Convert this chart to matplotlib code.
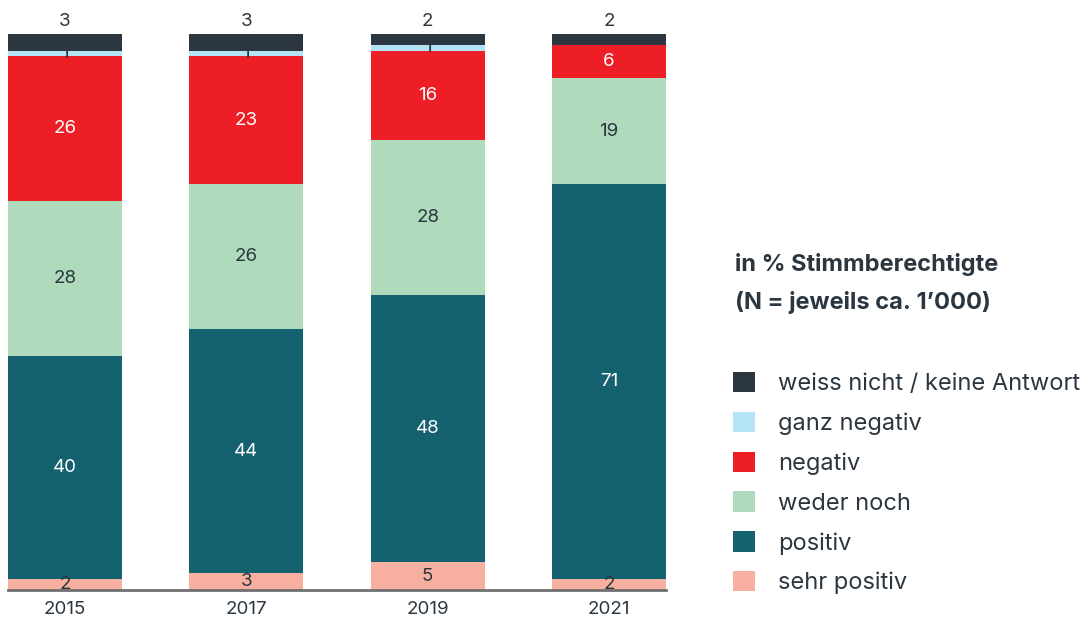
import numpy as np
import matplotlib.pyplot as plt
from matplotlib.patches import Patch

plt.rcParams['font.family'] = ['Inter', 'DejaVu Sans']

jahre = ['2015', '2017', '2019', '2021']
kategorien = ['sehr positiv', 'positiv', 'weder noch', 'negativ', 'ganz negativ',
              'weiss nicht / keine Antwort']
sehr_positiv = [2, 3, 5, 2]
positiv = [40, 44, 48, 71]
weder_noch = [28, 26, 28, 19]
negativ = [26, 23, 16, 6]
ganz_negativ = [1, 1, 1, 0]
weiss_nicht = [3, 3, 2, 2]

farben = ['#f7af9f', '#146170', '#afdabb', '#ee1e26', '#b3e3f4', '#2b3640']
textfarben = ['#2b3640', 'white', '#2b3640', 'white', '#2b3640', '#2b3640']
dunkel = '#2b3640'

werte = [sehr_positiv, positiv, weder_noch, negativ, ganz_negativ, weiss_nicht]

fig = plt.figure(figsize=(10.85, 6.19), dpi=100)
ax = fig.add_axes([8 / 1085, 29 / 619, 658 / 1085, 556 / 619])

x = np.arange(len(jahre))
breite = 0.63
unten = np.zeros(len(jahre))
for i, serie in enumerate(werte):
    serie = np.array(serie, dtype=float)
    ax.bar(x, serie, breite, bottom=unten, color=farben[i], linewidth=0)
    for j, v in enumerate(serie):
        if v <= 0:
            continue
        if i == len(werte) - 1:
            # oberste Kategorie: Beschriftung über dem Balken
            ax.text(x[j], unten[j] + v + 0.8, f'{int(v)}', ha='center', va='bottom',
                    fontsize=13.5, color=dunkel)
        else:
            ax.text(x[j], unten[j] + v / 2, f'{int(v)}', ha='center', va='center',
                    fontsize=13.5, color=textfarben[i])
    unten += serie

ax.set_xlim(-breite / 2, 3 + breite / 2)
ax.set_ylim(0, 100)
ax.axhline(0, color='#707070', linewidth=2, clip_on=False)
ax.set_xticks(x)
ax.set_xticklabels(jahre, fontsize=13.5, color=dunkel)
ax.tick_params(axis='x', length=0, pad=8)
ax.set_yticks([])
for s in ax.spines.values():
    s.set_visible(False)

fig.text(735 / 1085, 1 - 265 / 619, 'in % Stimmberechtigte', fontsize=17,
         fontweight='bold', color=dunkel, va='center', ha='left')
fig.text(735 / 1085, 1 - 302 / 619, '(N = jeweils ca. 1\u2019000)', fontsize=17,
         fontweight='bold', color=dunkel, va='center', ha='left')

handles = [Patch(facecolor=farben[i], edgecolor='none', label=kategorien[i])
           for i in range(len(kategorien))][::-1]
leg = fig.legend(handles=handles, loc='upper left',
                 bbox_to_anchor=(733 / 1085, 1 - 372 / 619), frameon=False,
                 fontsize=17, handlelength=0.95, handleheight=0.95,
                 handletextpad=0.95, labelspacing=0.70, borderaxespad=0,
                 borderpad=0)
for t in leg.get_texts():
    t.set_color(dunkel)

fig.savefig('out.png', dpi=100)
